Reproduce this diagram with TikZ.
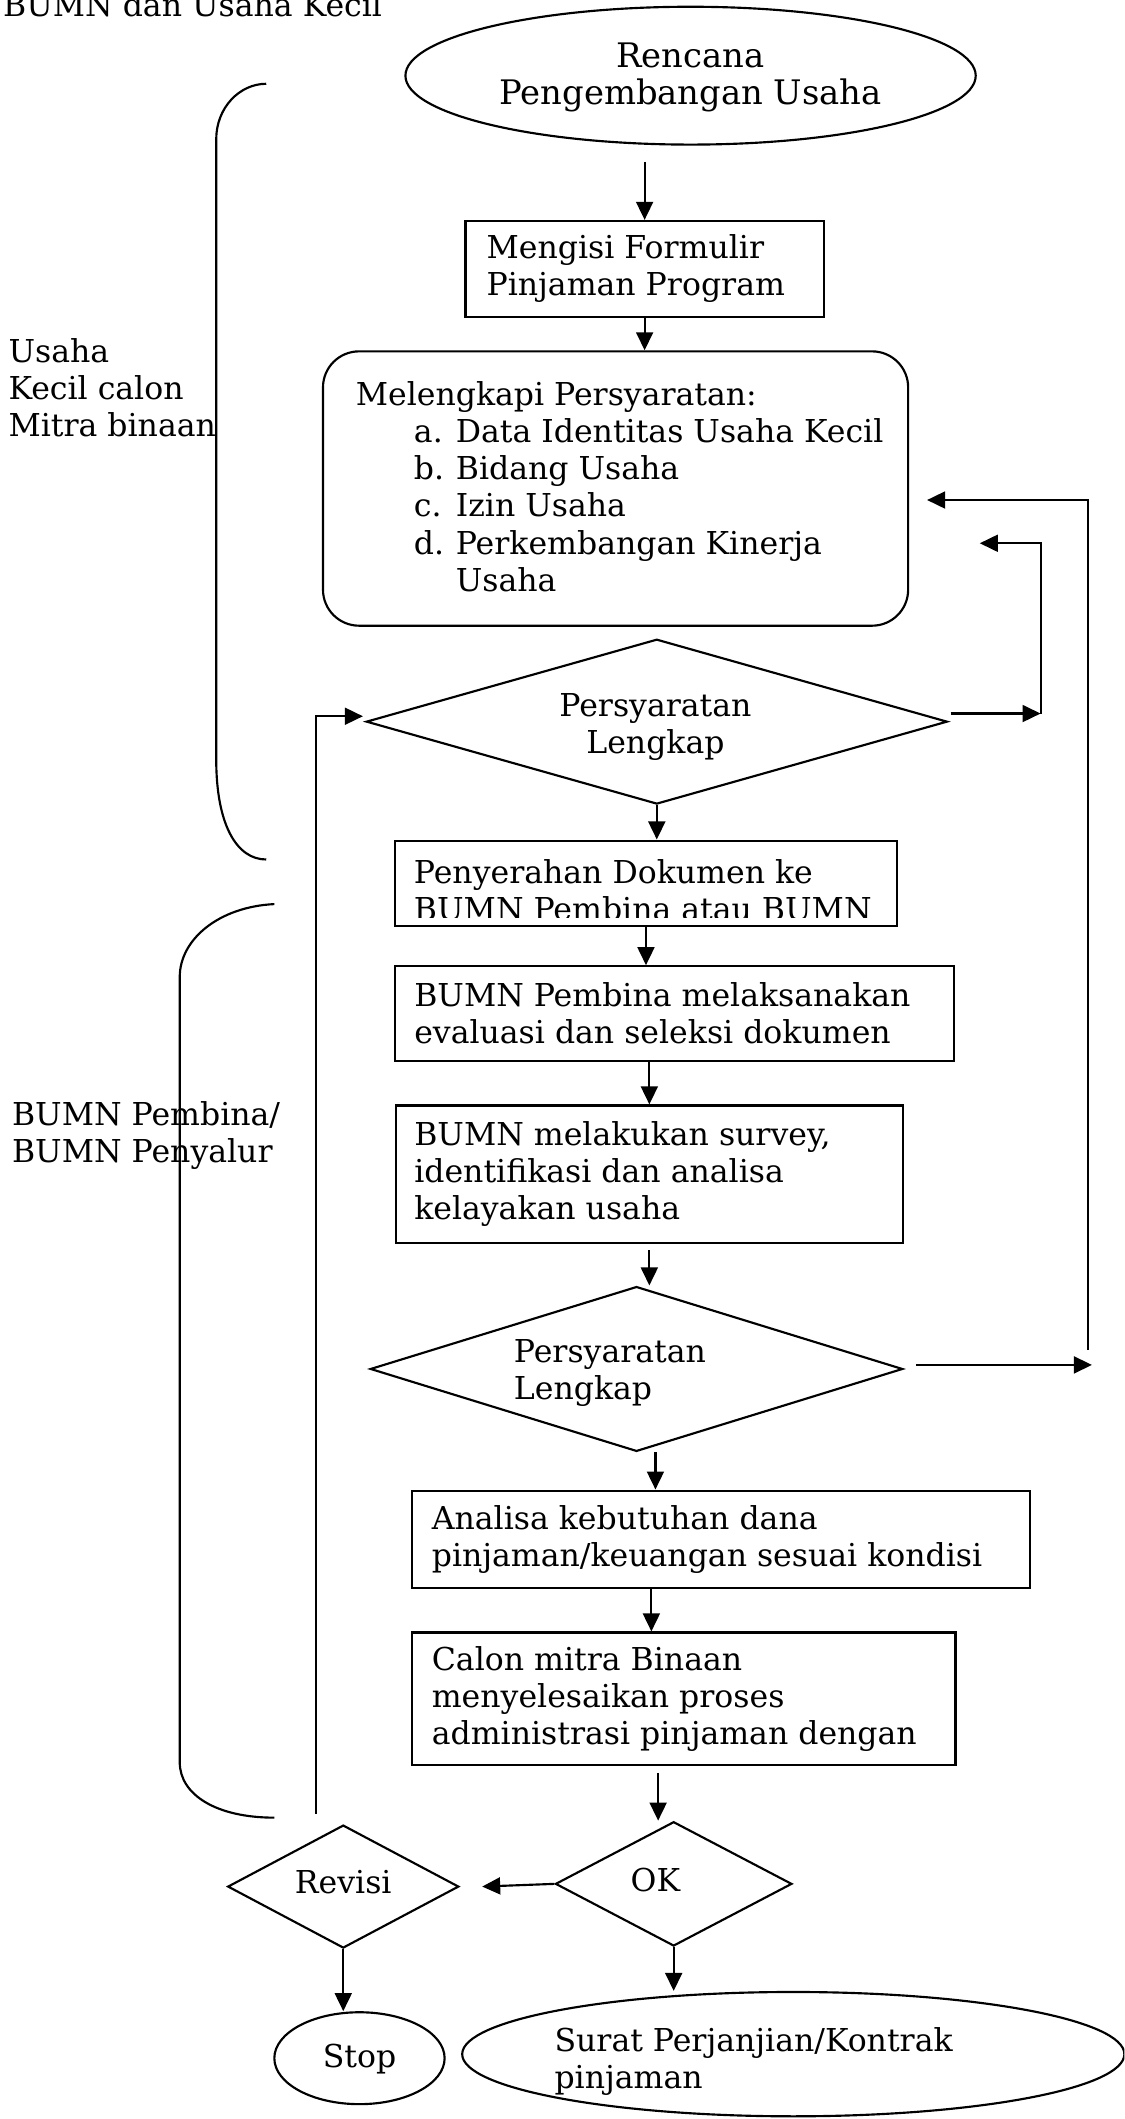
\documentclass[tikz,border=0pt]{standalone}
\usepackage{fontspec}
\setmainfont{DejaVu Serif}
\usetikzlibrary{shapes.geometric,arrows.meta,calc}
\newcommand\flowsz{\fontsize{14pt}{16.5pt}\selectfont}
\newcommand\bigflowsz{\fontsize{15pt}{16.5pt}\selectfont}
\begin{document}
\begin{tikzpicture}[x=0.6pt,y=-0.6pt,
  shp/.style={draw, line width=0.95pt, inner sep=0pt},
  bx/.style={shp, rectangle},
  dia/.style={shp, diamond},
  ell/.style={shp, ellipse},
  txt/.style={inner sep=0pt, font=\flowsz, align=left},
  ctxt/.style={inner sep=0pt, font=\flowsz, align=center},
  arr/.style={line width=0.95pt, -{Triangle[length=8pt,width=7.5pt]}},
  ln/.style={line width=0.95pt},
]
\useasboundingbox (0,0) rectangle (832,1568);
\clip (0,0) rectangle (832,1568);

% header (cut at top, as in the reference)
\node[txt, anchor=base west] (hdr) at (2,12) {BUMN dan Usaha Kecil};

% side labels
\node[txt, anchor=north west] (lab1) at (6,250) {Usaha\\Kecil calon\\Mitra binaan};
\node[txt, anchor=north west] (lab2) at (8.6,815) {BUMN Pembina/\\BUMN Penyalur};

% brackets
\draw[ln] (197,62) .. controls (177,62) and (160,80) .. (160,103) -- (160,562)
  .. controls (160,610) and (175,636) .. (197,636);
\draw[ln] (203,669) .. controls (162,671) and (133,695) .. (133,723) -- (133,1304)
  .. controls (133,1328) and (160,1345) .. (203,1345);

% start ellipse
\node[ell, minimum width=253.2pt, minimum height=61.2pt] (e1) at (511,56) {};
\node[ctxt, font=\bigflowsz] (e1t) at (511,57) {Rencana\\Pengembangan Usaha};

% box 1
\node[bx, minimum width=159pt, minimum height=42.6pt] (b1) at (477,199) {};
\node[txt, anchor=west] (b1t) at ([xshift=9.6pt]b1.west) {Mengisi Formulir\\Pinjaman Program};

% rounded requirements box
\node[bx, rounded corners=16pt, minimum width=259.8pt, minimum height=121.8pt] (rb) at (455.5,361.5) {};
\node[txt, anchor=north west] (rbt) at (263,282) {Melengkapi Persyaratan:\\
\hspace*{25.8pt}\makebox[18.6pt][l]{a.}Data Identitas Usaha Kecil\\
\hspace*{25.8pt}\makebox[18.6pt][l]{b.}Bidang Usaha\\
\hspace*{25.8pt}\makebox[18.6pt][l]{c.}Izin Usaha\\
\hspace*{25.8pt}\makebox[18.6pt][l]{d.}Perkembangan Kinerja\\
\hspace*{44.4pt}Usaha};

% decision 1
\node[dia, minimum width=258pt, minimum height=73.2pt] (d1) at (486,534) {};
\node[ctxt] (d1t) at (485,538) {Persyaratan\\Lengkap};

% box 2 (text cut by the border)
\node[bx, minimum width=223.2pt, minimum height=37.8pt] (b2) at (478,653.5) {};
\begin{scope}
\clip ([xshift=-1pt]b2.north west) rectangle ([yshift=4.2pt]b2.south east);
\node[txt, anchor=north west] (b2t) at (306,635.5) {Penyerahan Dokumen ke\\BUMN Pembina atau BUMN};
\end{scope}

% box 3
\node[bx, minimum width=248.4pt, minimum height=42pt] (b3) at (499,750) {};
\node[txt, anchor=west] (b3t) at ([xshift=9pt]b3.west) {BUMN Pembina melaksanakan\\evaluasi dan seleksi dokumen};

% box 4
\node[bx, minimum width=225pt, minimum height=60.9pt] (b4) at (480.5,868.75) {};
\node[txt, anchor=west] (b4t) at ([xshift=8.4pt]b4.west) {BUMN melakukan survey,\\identifikasi dan analisa\\kelayakan usaha};

% decision 2
\node[dia, minimum width=236.4pt, minimum height=73.2pt] (d2) at (471,1013) {};
\node[txt, anchor=north west] (d2t) at (380,991) {Persyaratan\\Lengkap};

% box 5
\node[bx, minimum width=274.2pt, minimum height=43.2pt] (b5) at (533.5,1139) {};
\node[txt, anchor=west] (b5t) at ([xshift=9pt]b5.west) {Analisa kebutuhan dana\\pinjaman/keuangan sesuai kondisi};

% box 6
\node[bx, minimum width=241.2pt, minimum height=58.8pt] (b6) at (506,1257) {};
\node[txt, anchor=west] (b6t) at ([xshift=9pt]b6.west) {Calon mitra Binaan\\menyelesaikan proses\\administrasi pinjaman dengan};

% OK / Revisi
\node[dia, minimum width=105pt, minimum height=55.2pt] (ok) at (498.5,1394) {};
\node[ctxt] (okt) at (485,1391) {OK};
\node[dia, minimum width=102.6pt, minimum height=54.6pt] (rev) at (254,1396) {};
\node[ctxt] (revt) at (254,1393) {Revisi};

% terminals
\node[ell, minimum width=75.6pt, minimum height=40.8pt] (stop) at (266,1523) {};
\node[ctxt] (stopt) at (266,1524) {Stop};
\node[ell, minimum width=294pt, minimum height=55.2pt] (e2) at (587,1520) {};
\node[txt, anchor=north west] (e2t) at (410,1500) {Surat Perjanjian/Kontrak\\pinjaman};

% main connectors
\draw[arr, shorten <=7.2pt] (e1.south -| b1.north) -- (b1.north);
\draw[arr] (b1.south) -- (b1.south |- rb.north);
\draw[arr] (d1.south) -- (d1.south |- b2.north);
\draw[arr] (b2.south) -- (b2.south |- b3.north);
\draw[arr] (b4.north |- b3.south) -- (b4.north);
\draw[arr, shorten <=3pt] (b4.south) -- (b4.south |- d2.north);
\draw[arr] ([xshift=8.4pt]d2.south) -- ([xshift=8.4pt]d2.south |- b5.north);
\draw[arr] (482,0 |- b5.south) -- (482,0 |- b6.north);
\draw[arr, shorten <=3pt] (487,0 |- b6.south) -- (487,0 |- ok.north);
\draw[arr] (ok.west) -- ([xshift=9.9pt]rev.east);
\draw[arr] (rev.south) -- (rev.south |- stop.north);
\draw[arr] (ok.south) -- (ok.south |- e2.north);

% inner loop from decision 1
\coordinate (L1a) at (770,528);
\coordinate (L1b) at (770,402);
\coordinate (L1c) at (725,402);
\draw[arr] ([xshift=1pt]d1.east |- L1a) -- (L1a);
\draw[arr] (L1a) -- (L1b) -- (L1c);

% outer loop from decision 2
\coordinate (L2a) at (808,1010);
\coordinate (L2b) at (805,999);
\coordinate (L2c) at (805,370);
\coordinate (L2d) at (686,370);
\draw[arr] ([xshift=5.4pt]d2.east |- L2a) -- (L2a);
\draw[arr] (L2b) -- (L2c) -- (L2d);

% revision loop
\coordinate (R1) at (234,1342);
\coordinate (R2) at (234,530);
\draw[arr] (R1) -- (R2) -- ([xshift=-1pt]d1.west |- R2);
\end{tikzpicture}
\end{document}
